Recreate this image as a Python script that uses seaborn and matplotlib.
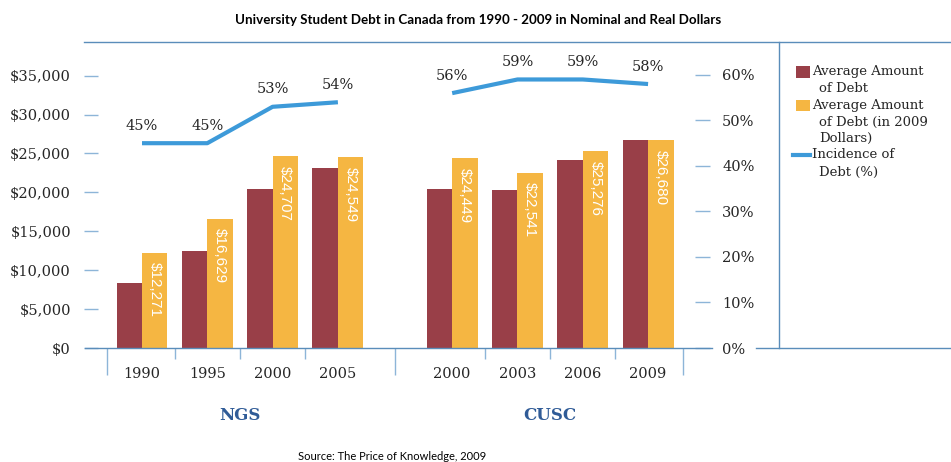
import matplotlib
matplotlib.use("Agg")
import matplotlib.pyplot as plt
from matplotlib.lines import Line2D
from matplotlib.patches import Rectangle
import pandas as pd
import seaborn as sns

# ---- data -------------------------------------------------------------
surveys = ["NGS", "CUSC"]
ngs_years = ["1990", "1995", "2000", "2005"]
cusc_years = ["2000", "2003", "2006", "2009"]
ngs_nominal = [8300, 12500, 20500, 23100]
cusc_nominal = [20500, 20300, 24200, 26680]
ngs_real = [12271, 16629, 24707, 24549]
cusc_real = [24449, 22541, 25276, 26680]
ngs_incidence = [45, 45, 53, 54]
cusc_incidence = [56, 59, 59, 58]
debt_ticks = [0, 5000, 10000, 15000, 20000, 25000, 30000, 35000]
pct_ticks = [0, 10, 20, 30, 40, 50, 60]
nominal_name = "Average Amount of Debt"
real_name = "Average Amount of Debt (in 2009 Dollars)"
legend_lines = [
    ["Average Amount", "of Debt"],
    ["Average Amount", "of Debt (in 2009", "Dollars)"],
    ["Incidence of", "Debt (%)"],
]
title = "University Student Debt in Canada from 1990 - 2009 in Nominal and Real Dollars"
source = "Source: The Price of Knowledge, 2009"

# ---- style ------------------------------------------------------------
RED = "#993F48"
YEL = "#F5B642"
BLUE = "#3D9AD9"
FRAME = "#5A8DBA"
TICK = "#8DB5D8"
TXT = "#262626"
GROUP = "#2F5B97"
SERIF = "DejaVu Serif"
SANS = "Liberation Sans"
HUMANIST = "Lato"

W, H = 951, 462
fig = plt.figure(figsize=(W / 100, H / 100), dpi=100)
fig.patch.set_facecolor("white")


def fx(px):
    return px / W


def fy(py):
    return 1 - py / H


AX_L, AX_R, AX_T, AX_B = 84, 779, 41.7, 348
ax = fig.add_axes([fx(AX_L), fy(AX_B), fx(AX_R) - fx(AX_L), fy(AX_T) - fy(AX_B)])

# positions: NGS slots 0..3, CUSC slots after a wider gap
GAP = 0.75
ngs_pos = [float(i) for i in range(len(ngs_years))]
cusc_pos = [len(ngs_years) + GAP + i for i in range(len(cusc_years))]
positions = ngs_pos + cusc_pos
years = ngs_years + cusc_years

df = pd.DataFrame({
    "pos": positions * 2,
    "amount": ngs_nominal + cusc_nominal + ngs_real + cusc_real,
    "series": [nominal_name] * len(positions) + [real_name] * len(positions),
})

sns.barplot(data=df, x="pos", y="amount", hue="series",
            hue_order=[nominal_name, real_name], palette=[RED, YEL],
            native_scale=True, width=0.78, errorbar=None, legend=False,
            saturation=1, linewidth=0, orient="x", ax=ax)

# value labels inside the real-dollar bars
for p, v in zip(positions, ngs_real + cusc_real):
    ax.annotate(f"${v:,}", xy=(p + 0.195, v), xytext=(0, -7),
                textcoords="offset points", rotation=-90,
                ha="center", va="top", color="white",
                fontsize=11, family=SANS)

px_per_slot = 65.3
x0_px = 142
ax.set_xlim((AX_L - x0_px) / px_per_slot, (AX_R - x0_px) / px_per_slot)
ax.set_ylim(0, 39370)

for s in ax.spines.values():
    s.set_visible(False)
ax.set_facecolor("none")

ax.set_yticks(debt_ticks)
ax.set_yticklabels([f"${t:,}" for t in debt_ticks])
ax.tick_params(axis="y", direction="in", length=10, width=1, color=TICK,
               pad=9.4, labelsize=10.5, labelcolor=TXT)
for lab in ax.get_yticklabels():
    lab.set_family(SERIF)

ax.set_xticks(positions)
ax.set_xticklabels(years)
ax.tick_params(axis="x", which="major", length=0, pad=14,
               labelsize=10.5, labelcolor=TXT)
for lab in ax.get_xticklabels():
    lab.set_family(SERIF)
ax.set_xlabel("")
ax.set_ylabel("")

# short separators between years
short_b = [p + 0.5 for p in ngs_pos[:-1]] + [p + 0.5 for p in cusc_pos[:-1]]
ax.set_xticks(short_b, minor=True)
ax.tick_params(axis="x", which="minor", direction="out", length=8,
               width=1, color=TICK)

# long separators around survey groups
sec = ax.secondary_xaxis("bottom")
long_b = [ngs_pos[0] - 0.54, ngs_pos[-1] + 0.87, cusc_pos[-1] + 0.54]
sec.set_xticks(long_b, labels=[])
sec.tick_params(length=19.4, width=1, color=TICK)
sec.spines["bottom"].set_visible(False)

# survey group labels
for name, grp in zip(surveys, [ngs_pos, cusc_pos]):
    ax.text((grp[0] + grp[-1]) / 2, -0.222, name,
            transform=ax.get_xaxis_transform(), ha="center", va="center",
            fontsize=12, fontweight="bold", family=SERIF, color=GROUP)

# incidence line on the secondary scale
ax2 = ax.twinx()
ax2.set_ylim(0, 67.3)
for grp_pos, inc in [(ngs_pos, ngs_incidence), (cusc_pos, cusc_incidence)]:
    sns.lineplot(x=grp_pos, y=inc, ax=ax2, color=BLUE, linewidth=3.0,
                 solid_capstyle="butt")
    for p, v in zip(grp_pos, inc):
        ax2.annotate(f"{v}%", xy=(p, v), xytext=(0, 12.5),
                     textcoords="offset points", ha="center", va="center",
                     fontsize=10.5, family=SERIF, color=TXT)

for s in ax2.spines.values():
    s.set_visible(False)
ax2.spines["right"].set_position(("axes", (701.5 - AX_L) / (AX_R - AX_L)))
ax2.set_yticks(pct_ticks)
ax2.set_yticklabels([f"{t}%" for t in pct_ticks])
ax2.tick_params(axis="y", direction="inout", length=10.8, width=1,
                color=TICK, pad=9.4, labelsize=10.5, labelcolor=TXT)
for lab in ax2.get_yticklabels():
    lab.set_family(SERIF)
ax2.set_ylabel("")


# frame lines
def hline(x1, x2, y):
    fig.add_artist(Line2D([fx(x1), fx(x2)], [fy(y), fy(y)], color=FRAME,
                          linewidth=1.0, transform=fig.transFigure))


hline(AX_L, W, AX_T)
hline(AX_L + 1, 712, AX_B)
hline(756, W, AX_B)
fig.add_artist(Line2D([fx(AX_R), fx(AX_R)], [fy(AX_T), fy(AX_B)],
                      color=FRAME, linewidth=1.0, transform=fig.transFigure))

# legend
fig.add_artist(Rectangle((fx(796), fy(77.5)), 14 / W, 11 / H,
                         facecolor=RED, edgecolor="none",
                         transform=fig.transFigure))
fig.add_artist(Rectangle((fx(796), fy(111)), 14 / W, 11 / H,
                         facecolor=YEL, edgecolor="none",
                         transform=fig.transFigure))
fig.add_artist(Line2D([fx(793), fx(810)], [fy(154.5), fy(154.5)],
                      color=BLUE, linewidth=3.0, transform=fig.transFigure))
line_y = [[72, 89], [105, 122, 138], [155, 172]]
for lines, ys in zip(legend_lines, line_y):
    for i, (t, y) in enumerate(zip(lines, ys)):
        fig.text(fx(812 if i == 0 else 819), fy(y), t, ha="left",
                 va="center", fontsize=9.5, family=SERIF, color=TXT)

fig.text(fx(478), fy(19.5), title, ha="center", va="center", fontsize=9.6,
         fontweight="bold", family=HUMANIST, color="black")
fig.text(fx(392), fy(456), source, ha="center", va="center", fontsize=8,
         family=HUMANIST, color="black")

fig.savefig("out.png", dpi=100)
